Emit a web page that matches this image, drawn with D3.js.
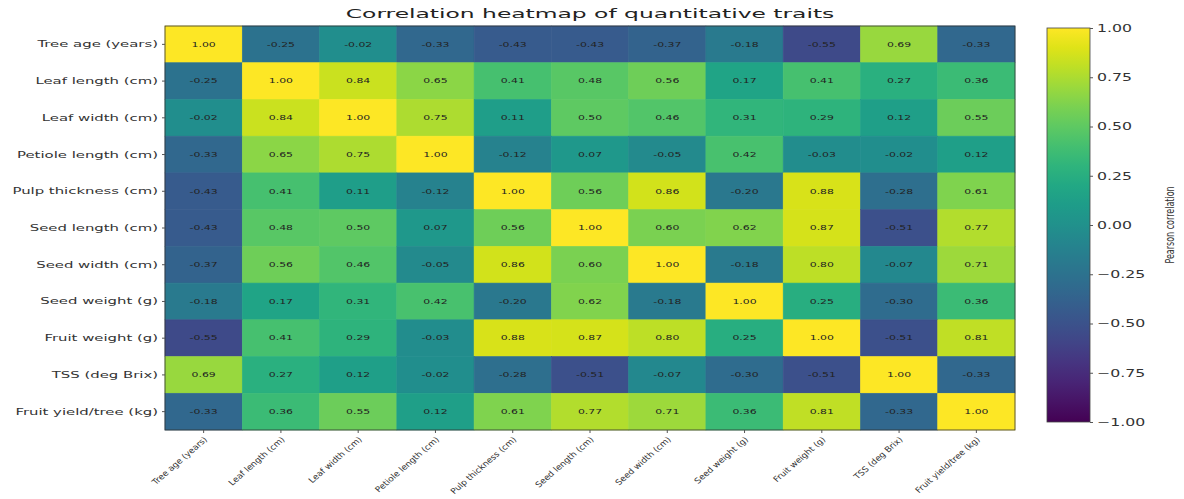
<!DOCTYPE html>
<html>
<head>
<meta charset="utf-8">
<script src="https://cdn.jsdelivr.net/npm/d3@7"></script>
<style>
  body { margin: 0; background: #fff; }
  text { font-family: "DejaVu Sans", sans-serif; }
</style>
</head>
<body>
<svg width="1184" height="499"></svg>
<script>
// trait names, same order on both axes
var traits = ["Tree age (years)", "Leaf length (cm)", "Leaf width (cm)", "Petiole length (cm)",
  "Pulp thickness (cm)", "Seed length (cm)", "Seed width (cm)", "Seed weight (g)",
  "Fruit weight (g)", "TSS (deg Brix)", "Fruit yield/tree (kg)"];

// correlation matrix, one row per trait
var corr = [
  [ 1.00, -0.25, -0.02, -0.33, -0.43, -0.43, -0.37, -0.18, -0.55,  0.69, -0.33],
  [-0.25,  1.00,  0.84,  0.65,  0.41,  0.48,  0.56,  0.17,  0.41,  0.27,  0.36],
  [-0.02,  0.84,  1.00,  0.75,  0.11,  0.50,  0.46,  0.31,  0.29,  0.12,  0.55],
  [-0.33,  0.65,  0.75,  1.00, -0.12,  0.07, -0.05,  0.42, -0.03, -0.02,  0.12],
  [-0.43,  0.41,  0.11, -0.12,  1.00,  0.56,  0.86, -0.20,  0.88, -0.28,  0.61],
  [-0.43,  0.48,  0.50,  0.07,  0.56,  1.00,  0.60,  0.62,  0.87, -0.51,  0.77],
  [-0.37,  0.56,  0.46, -0.05,  0.86,  0.60,  1.00, -0.18,  0.80, -0.07,  0.71],
  [-0.18,  0.17,  0.31,  0.42, -0.20,  0.62, -0.18,  1.00,  0.25, -0.30,  0.36],
  [-0.55,  0.41,  0.29, -0.03,  0.88,  0.87,  0.80,  0.25,  1.00, -0.51,  0.81],
  [ 0.69,  0.27,  0.12, -0.02, -0.28, -0.51, -0.07, -0.30, -0.51,  1.00, -0.33],
  [-0.33,  0.36,  0.55,  0.12,  0.61,  0.77,  0.71,  0.36,  0.81, -0.33,  1.00]
];

var cbTicks = [1.00, 0.75, 0.50, 0.25, 0.00, -0.25, -0.50, -0.75, -1.00];

// the reference picture is stretched sideways, so text gets a horizontal scale
var sx = 1.6;

var svg = d3.select("svg"),
    margin = {top: 26, left: 165},
    width = 850,
    height = 404,
    g = svg.append("g").attr("transform", "translate(" + margin.left + "," + margin.top + ")");

var x = d3.scaleBand().domain(traits).range([0, width]);
var y = d3.scaleBand().domain(traits).range([0, height]);
var color = d3.scaleSequential(d3.interpolateViridis).domain([-1, 1]);

// flatten the matrix into cells
var cells = [];
corr.forEach(function(row, i) {
  row.forEach(function(v, j) { cells.push({r: traits[i], c: traits[j], v: v}); });
});

g.selectAll("rect.cell")
  .data(cells)
  .enter().append("rect")
    .attr("class", "cell")
    .attr("x", function(d) { return x(d.c); })
    .attr("y", function(d) { return y(d.r); })
    .attr("width", x.bandwidth())
    .attr("height", y.bandwidth())
    .attr("fill", function(d) { return color(d.v); })
    .attr("stroke", function(d) { return color(d.v); })
    .attr("stroke-width", 0.6);

g.selectAll("text.val")
  .data(cells)
  .enter().append("text")
    .attr("class", "val")
    .attr("transform", function(d) {
      return "translate(" + (x(d.c) + x.bandwidth() / 2) + "," + (y(d.r) + y.bandwidth() / 2) + ") scale(1.7,1)";
    })
    .attr("dy", "0.35em")
    .attr("text-anchor", "middle")
    .attr("font-size", 6.4)
    .attr("fill", "#222")
    .text(function(d) { return d.v.toFixed(2); });

// frame
g.append("rect")
  .attr("width", width).attr("height", height)
  .attr("fill", "none").attr("stroke", "#333").attr("stroke-width", 0.8);

// axes
var yAxis = g.append("g").call(d3.axisLeft(y).tickSize(3).tickSizeOuter(0));
yAxis.select(".domain").remove();
yAxis.selectAll("line").attr("stroke", "#555");
yAxis.selectAll("text")
  .attr("font-size", 9.3).attr("fill", "#333").attr("font-family", "DejaVu Sans")
  .attr("x", 0)
  .attr("transform", "translate(-7,0) scale(" + sx + ",1)");

var xAxis = g.append("g")
  .attr("transform", "translate(0," + height + ")")
  .call(d3.axisBottom(x).tickSize(3).tickSizeOuter(0));
xAxis.select(".domain").remove();
xAxis.selectAll("line").attr("stroke", "#555");
xAxis.selectAll("text")
  .attr("font-size", 7.9)
  .attr("fill", "#333")
  .attr("font-family", "DejaVu Sans")
  .attr("text-anchor", "end")
  .attr("x", 0).attr("y", 0).attr("dy", "0.35em")
  .attr("transform", "translate(2,8) scale(1.15,1) rotate(-45)");

// title
svg.append("text")
  .attr("transform", "translate(" + (margin.left + width / 2) + ",18) scale(1.8,1)")
  .attr("text-anchor", "middle")
  .attr("font-size", 13)
  .attr("fill", "#222")
  .text("Correlation heatmap of quantitative traits");

// colorbar
var cb = {x: 1047, y: 28, w: 43, h: 394};
var defs = svg.append("defs");
var grad = defs.append("linearGradient")
  .attr("id", "viridis").attr("x1", 0).attr("y1", 1).attr("x2", 0).attr("y2", 0);
d3.range(0, 1.0001, 0.05).forEach(function(t) {
  grad.append("stop").attr("offset", t).attr("stop-color", d3.interpolateViridis(t));
});

var cbScale = d3.scaleLinear().domain([-1, 1]).range([cb.y + cb.h, cb.y]);
svg.append("rect")
  .attr("x", cb.x).attr("y", cb.y).attr("width", cb.w).attr("height", cb.h)
  .attr("fill", "url(#viridis)").attr("stroke", "#444").attr("stroke-width", 0.8);

var cbAxis = svg.append("g")
  .attr("transform", "translate(" + (cb.x + cb.w) + ",0)")
  .call(d3.axisRight(cbScale).tickValues(cbTicks).tickSize(3)
    .tickFormat(function(d) { return d3.format(".2f")(d).replace("-", "\u2212"); }));
cbAxis.select(".domain").remove();
cbAxis.selectAll("line").attr("stroke", "#555");
cbAxis.selectAll("text")
  .attr("font-size", 10.5).attr("fill", "#333").attr("font-family", "DejaVu Sans")
  .attr("x", 0)
  .attr("transform", "translate(7,0) scale(1.5,1)");

svg.append("text")
  .attr("transform", "translate(1174," + (cb.y + cb.h / 2) + ") scale(1.5,1) rotate(-90)")
  .attr("text-anchor", "middle")
  .attr("font-size", 8)
  .attr("fill", "#333")
  .text("Pearson correlation");
</script>
</body>
</html>
